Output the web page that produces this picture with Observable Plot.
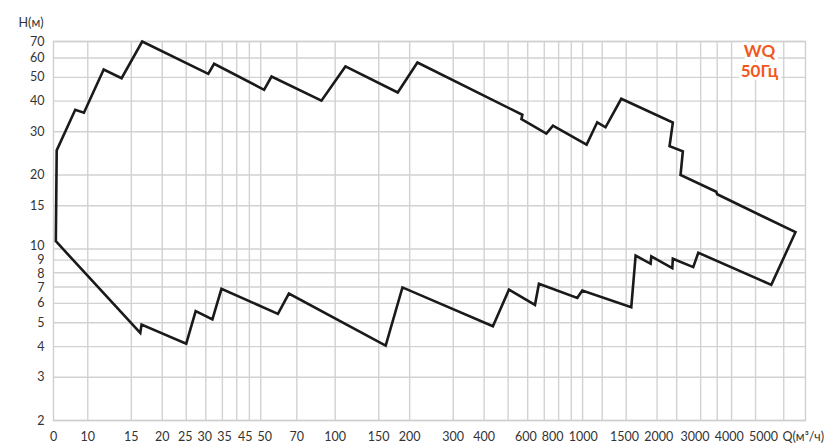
<!DOCTYPE html>
<html><head><meta charset="utf-8">
<script src="https://cdn.jsdelivr.net/npm/d3@7"></script>
<script src="https://cdn.jsdelivr.net/npm/@observablehq/plot@0.6"></script>
<style>body{margin:0;background:#fff} svg{display:block}</style>
</head><body><div id="chart"></div>
<script>
// Pump range envelope (closed outline), Q in m³/h, H in m
const envelopeQ = [7.43, 7.49, 8.9, 9.65, 11.6, 13.7, 16.6, 30.7, 32.4, 51.6, 55.3, 88, 110, 179, 215,
  571, 566, 714, 759, 1038, 1146, 1238, 1433, 2316, 2246, 2542, 2488, 3470, 3500, 7250,
  5790, 2935, 2800, 2316, 2304, 1895, 1883, 1638, 1573, 997, 952, 666, 642, 504, 434,
  187, 160, 65, 58.7, 34.7, 31.9, 27.3, 25, 16.5, 16.3, 7.43];
const envelopeH = [10.75, 25.2, 36.9, 35.9, 53.8, 49.6, 70, 51.7, 56.8, 44.5, 50.4, 40.2, 55.4, 43.4, 57.5,
  35.2, 33.8, 29.5, 31.8, 26.6, 32.8, 31.3, 40.9, 32.7, 26.2, 25.0, 20.0, 17.1, 16.7, 11.7,
  7.14, 9.65, 8.43, 9.12, 8.35, 9.32, 8.70, 9.40, 5.79, 6.77, 6.32, 7.21, 5.92, 6.83, 4.84,
  6.97, 4.04, 6.58, 5.44, 6.88, 5.16, 5.58, 4.11, 4.92, 4.55, 10.75];

const xGrid = [10, 15, 20, 25, 30, 35, 40, 45, 50, 70, 100, 150, 200, 300, 400, 500, 600, 700, 800, 900,
  1000, 1200, 1500, 2000, 2400, 3000, 3500, 4000, 5000, 6500];
const xTickLabels = [10, 15, 20, 25, 30, 35, 45, 50, 70, 100, 150, 200, 300, 400, 600, 800,
  1000, 1500, 2000, 3000, 4000, 5000];
const yGrid = [2, 3, 4, 5, 6, 7, 8, 9, 10, 15, 20, 30, 40, 50, 60, 70];
const yTickLabels = [2, 3, 4, 5, 6, 7, 8, 9, 10, 15, 20, 30, 40, 50, 60, 70];
const xDomain = [7.27, 7960];
const yDomain = [2, 70];
const xOriginLabel = "0";
const xTitle = "Q(м³/ч)";
const yTitle = "H(м)";
const seriesTitle = "WQ\n50Гц";

const envelope = envelopeQ.map((q, i) => ({Q: q, H: envelopeH[i]}));
const font = "Lato, 'Open Sans', sans-serif";
const fs = 12.5;
const txt = "#333";
const gridStyle = {stroke: "#d2d2d2", strokeOpacity: 1, strokeWidth: 1.4};

const layout = {
  width: 826, height: 443,
  marginLeft: 53, marginRight: 21, marginTop: 41, marginBottom: 23,
  style: {fontFamily: font, fontSize: fs + "px", color: txt, background: "#fff"},
  x: {type: "log", domain: xDomain, axis: null},
  y: {type: "log", domain: yDomain, axis: null}
};

// Spread tick labels apart (1-D collision avoidance) so that none overlap,
// keeping each cluster centred on its ticks' true positions.
function spread(desired, sizes) {
  const idx = desired.map((_, i) => i).sort((a, b) => desired[a] - desired[b]);
  const clusters = [];
  for (const i of idx) {
    clusters.push({ids: [i], sum: desired[i], total: sizes[i]});
    while (clusters.length > 1) {
      const b = clusters[clusters.length - 1], a = clusters[clusters.length - 2];
      const aEnd = a.sum / a.ids.length + a.total / 2;
      const bStart = b.sum / b.ids.length - b.total / 2;
      if (aEnd > bStart) { a.ids.push(...b.ids); a.sum += b.sum; a.total += b.total; clusters.pop(); }
      else break;
    }
  }
  const out = new Array(desired.length);
  for (const c of clusters) {
    let p = c.sum / c.ids.length - c.total / 2;
    for (const i of c.ids) { out[i] = p + sizes[i] / 2; p += sizes[i]; }
  }
  return out;
}

// first pass: obtain the scales
const probe = Plot.plot({...layout, marks: [Plot.frame()]});
const sx = probe.scale("x"), sy = probe.scale("y");
const xLabelPx = spread(xTickLabels.map(d => sx.apply(d)), xTickLabels.map(d => String(d).length * 7.3 + 5));
const yLabelPx = spread(yTickLabels.map(d => sy.apply(d)), yTickLabels.map(() => 14));
const xTicks = xTickLabels.map((d, i) => ({label: String(d), at: sx.invert(xLabelPx[i])}));
const yTicks = yTickLabels.map((d, i) => ({label: String(d), at: sy.invert(yLabelPx[i])}));

const chart = Plot.plot({
  ...layout,
  marks: [
    Plot.gridX(xGrid, gridStyle),
    Plot.gridY(yGrid, gridStyle),
    Plot.frame({stroke: "#cfcfcf", strokeWidth: 1.4}),
    Plot.text(xTicks, {x: "at", text: "label", frameAnchor: "bottom", textAnchor: "middle",
      lineAnchor: "middle", dy: 16, fontSize: fs, fill: txt}),
    Plot.text(yTicks, {y: "at", text: "label", frameAnchor: "left", textAnchor: "end",
      lineAnchor: "middle", dx: -9, fontSize: fs, fill: txt}),
    Plot.line(envelope, {x: "Q", y: "H", stroke: "#1a1a1a", strokeWidth: 2.6, strokeLinejoin: "miter", strokeMiterlimit: 4}),
    Plot.text([xOriginLabel], {frameAnchor: "bottom-left", textAnchor: "middle", lineAnchor: "middle", dy: 16, fontSize: fs, fill: txt}),
    Plot.text([xTitle], {frameAnchor: "bottom-right", textAnchor: "start", lineAnchor: "middle", dx: -23, dy: 16, fontSize: fs, fill: txt}),
    Plot.text([yTitle], {frameAnchor: "top-left", textAnchor: "start", lineAnchor: "middle", dx: -35, dy: -19, fontSize: fs, fill: txt}),
    Plot.text([seriesTitle], {frameAnchor: "top-right", textAnchor: "middle", lineAnchor: "top", dx: -46, dy: 2,
      fontSize: 17, fontWeight: "bold", fill: "#f2581e", stroke: "white", strokeWidth: 6, lineHeight: 1.15})
  ]
});
document.getElementById("chart").appendChild(chart);
</script>
</body></html>
